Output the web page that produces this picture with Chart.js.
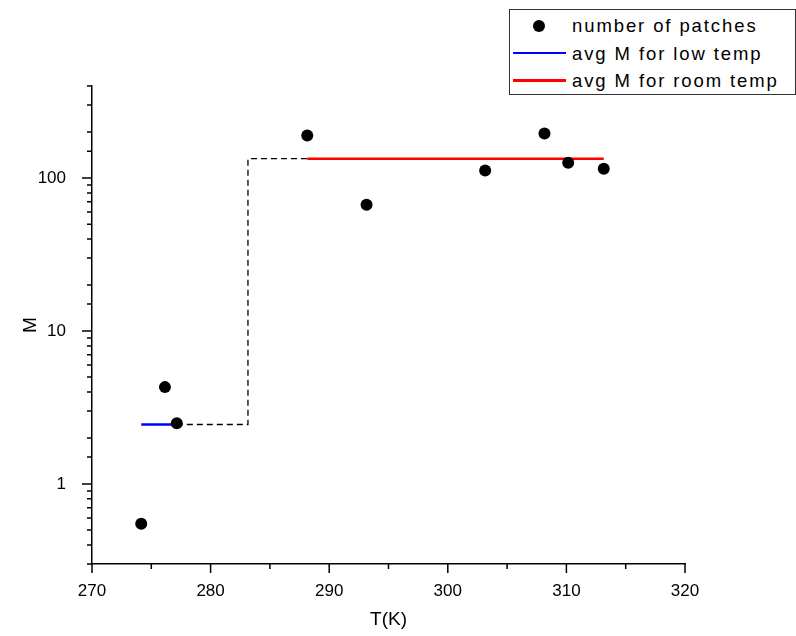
<!DOCTYPE html>
<html>
<head>
    <meta charset="utf-8">
    <title>M vs T(K)</title>
    <script src="https://cdn.jsdelivr.net/npm/chart.js"></script>
    <style>
        body { margin: 0; background: #fff; }
        #wrap { position: relative; width: 796px; height: 636px; }
        /* legend box sits over the plot, like the original */
        #legend {
            position: absolute; left: 509px; top: 9px;
            width: 285px; height: 84px;
            border: 1px solid #333; background: #fff;
            font: 18.5px "Liberation Sans", Arial, sans-serif;
            letter-spacing: 1.9px; color: #000;
        }
        .row { position: absolute; left: 0; height: 27px; line-height: 27px; white-space: nowrap; }
        .sym { position: absolute; left: 3px; top: 0; width: 54px; height: 27px; }
        .sym .dot { position: absolute; left: 20px; top: 7.5px; width: 12px; height: 12px; border-radius: 50%; }
        .sym .line { position: absolute; left: 0; top: 12px; width: 53px; height: 2.5px; }
        .txt { position: absolute; left: 62px; top: 0; }
    </style>
</head>
<body>
    <div id="wrap">
        <canvas id="chart" width="796" height="636"></canvas>
        <div id="legend"></div>
    </div>

    <script>
        // measured points (T in K, M)
        const temps   = [274.15, 276.15, 277.15, 288.15, 293.15, 303.15, 308.15, 310.15, 313.15];
        const patches = [0.55, 4.3, 2.5, 190, 67, 112, 196, 126, 115];

        // averages
        const lowRange  = [274.15, 277.15];
        const lowAvg    = 2.45;
        const roomRange = [288.15, 313.15];
        const roomAvg   = 134;

        // dashed step between the two regimes
        const stepX = [277.15, 283.15, 288.15];
        const stepY = [2.45, 134, 134];

        const xMin = 270, xMax = 320, xStep = 5;
        const yMin = 0.3, yMax = 400;

        function isDecade(v) {
            const l = Math.log10(v);
            return Math.abs(l - Math.round(l)) < 1e-9;
        }

        // tick marks: long for labelled ticks, short for minor ones
        const tickMarks = {
            id: 'tickMarks',
            afterDraw(chart) {
                const ctx = chart.ctx;
                const x = chart.scales.x, y = chart.scales.y;
                ctx.save();
                ctx.strokeStyle = '#000';
                ctx.lineWidth = 1.5;
                ctx.beginPath();
                x.ticks.forEach(t => {
                    const px = x.getPixelForValue(t.value);
                    const len = t.value % 10 === 0 ? 9 : 5;
                    ctx.moveTo(px, x.top);
                    ctx.lineTo(px, x.top + len);
                });
                y.ticks.forEach(t => {
                    const py = y.getPixelForValue(t.value);
                    const len = isDecade(t.value) ? 10 : 5;
                    ctx.moveTo(y.right, py);
                    ctx.lineTo(y.right - len, py);
                });
                ctx.stroke();
                ctx.restore();
            }
        };

        Chart.defaults.font.family = '"Liberation Sans", Arial, sans-serif';
        Chart.defaults.color = '#000';

        const ctx = document.getElementById('chart').getContext('2d');
        const chart = new Chart(ctx, {
            type: 'scatter',
            data: {
                datasets: [
                    {
                        label: 'number of patches',
                        data: temps.map((t, i) => ({ x: t, y: patches[i] })),
                        pointRadius: 6,
                        pointBackgroundColor: '#000',
                        pointBorderWidth: 0,
                        showLine: false,
                        legendType: 'dot',
                        legendColor: '#000'
                    },
                    {
                        label: 'avg M for low temp',
                        data: lowRange.map(t => ({ x: t, y: lowAvg })),
                        showLine: true,
                        borderColor: 'rgb(0,0,255)',
                        borderWidth: 2.5,
                        pointRadius: 0,
                        legendType: 'line',
                        legendColor: 'rgb(0,0,255)'
                    },
                    {
                        label: 'avg M for room temp',
                        data: roomRange.map(t => ({ x: t, y: roomAvg })),
                        showLine: true,
                        borderColor: 'rgb(255,0,0)',
                        borderWidth: 2.5,
                        pointRadius: 0,
                        legendType: 'line',
                        legendColor: 'rgb(255,0,0)'
                    },
                    {
                        label: 'step',
                        data: stepX.map((t, i) => ({ x: t, y: stepY[i] })),
                        showLine: true,
                        stepped: 'before',
                        borderColor: '#000',
                        borderWidth: 1.3,
                        borderDash: [6, 4],
                        pointRadius: 0
                    }
                ]
            },
            options: {
                responsive: false,
                animation: false,
                layout: { padding: { top: 86, right: 111, left: 0, bottom: 0 } },
                plugins: {
                    legend: { display: false },
                    tooltip: { enabled: false }
                },
                scales: {
                    x: {
                        type: 'linear',
                        min: xMin,
                        max: xMax,
                        grid: { display: false },
                        border: { color: '#000', width: 1.5 },
                        ticks: {
                            stepSize: xStep,
                            autoSkip: false,
                            maxRotation: 0,
                            padding: 9,
                            font: { size: 17 },
                            callback: v => (v % 10 === 0 ? String(v) : '')
                        },
                        title: {
                            display: true,
                            text: 'T(K)',
                            font: { size: 19 },
                            padding: { top: 0, bottom: 5 }
                        },
                        afterFit: s => { s.height = 72; }
                    },
                    y: {
                        type: 'logarithmic',
                        min: yMin,
                        max: yMax,
                        grid: { display: false },
                        border: { color: '#000', width: 1.5 },
                        ticks: {
                            autoSkip: false,
                            padding: 18,
                            font: { size: 17 },
                            callback: v => (isDecade(v) ? String(Math.round(v)) : '')
                        },
                        title: {
                            display: true,
                            text: 'M',
                            font: { size: 19 },
                            padding: { top: 19, bottom: 0 }
                        },
                        afterFit: s => { s.width = 92; }
                    }
                }
            },
            plugins: [tickMarks]
        });

        // html legend from the datasets that have a legend entry
        const legend = document.getElementById('legend');
        chart.data.datasets.filter(d => d.legendType).forEach((d, i) => {
            const row = document.createElement('div');
            row.className = 'row';
            row.style.top = (2 + i * 27.5) + 'px';
            const sym = document.createElement('div');
            sym.className = 'sym';
            const mark = document.createElement('div');
            mark.className = d.legendType;
            mark.style.background = d.legendColor;
            sym.appendChild(mark);
            const txt = document.createElement('span');
            txt.className = 'txt';
            txt.textContent = d.label;
            row.appendChild(sym);
            row.appendChild(txt);
            legend.appendChild(row);
        });
    </script>
</body>
</html>
